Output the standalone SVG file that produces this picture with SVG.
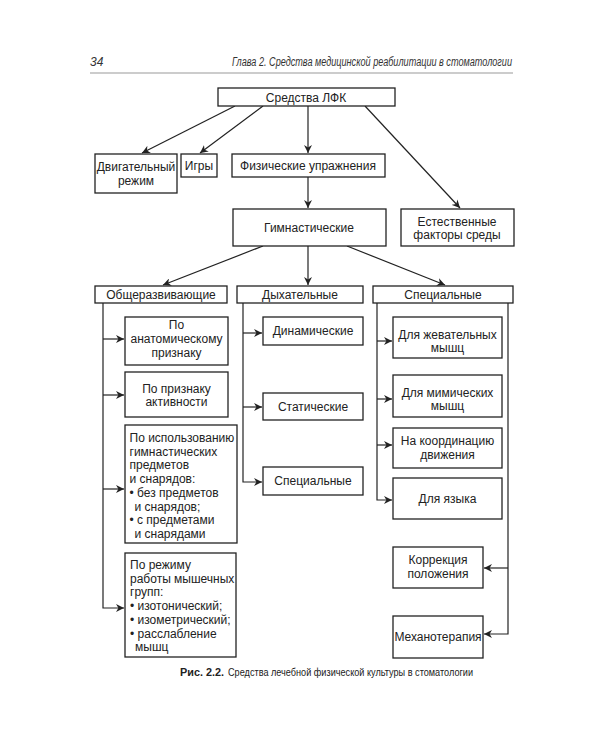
<svg xmlns="http://www.w3.org/2000/svg" width="600" height="750" viewBox="0 0 600 750">
<style>
.b{fill:#fff;stroke:#222;stroke-width:1.3}
.t{font-family:"Liberation Sans",Arial,sans-serif;font-size:12px;fill:#222}
.c{text-anchor:middle}
.l{fill:none;stroke:#222;stroke-width:1.2}
.h{font-family:"Liberation Sans",Arial,sans-serif;font-size:12px;font-style:italic;fill:#333}
.cap{font-family:"Liberation Sans",Arial,sans-serif;font-size:11px;fill:#222}
</style>
<defs>
<marker id="a" viewBox="0 0 10 10" refX="10" refY="5" markerWidth="8" markerHeight="8" markerUnits="userSpaceOnUse" orient="auto">
<path d="M0,0 L10,5 L0,10 L3,5 z" fill="#222"/>
</marker>
</defs>
<rect width="600" height="750" fill="#fff"/>
<g id="header">
<text class="h" x="90" y="66">34</text>
<text class="h" x="512" y="66" text-anchor="end" textLength="280" lengthAdjust="spacingAndGlyphs">Глава 2. Средства медицинской реабилитации в стоматологии</text>
<line x1="90" y1="73" x2="513" y2="73" stroke="#999" stroke-width="1.2"/>
</g>
<g id="connectors">
<line class="l" x1="235" y1="106" x2="142" y2="153" marker-end="url(#a)"/>
<line class="l" x1="263" y1="106" x2="200" y2="153" marker-end="url(#a)"/>
<line class="l" x1="308" y1="106" x2="308" y2="153" marker-end="url(#a)"/>
<line class="l" x1="365" y1="106" x2="460" y2="208" marker-end="url(#a)"/>
<line class="l" x1="308" y1="177" x2="308" y2="208" marker-end="url(#a)"/>
<line class="l" x1="263" y1="246" x2="163" y2="285" marker-end="url(#a)"/>
<line class="l" x1="308" y1="246" x2="308" y2="285" marker-end="url(#a)"/>
<line class="l" x1="347" y1="246" x2="445" y2="285" marker-end="url(#a)"/>
<path class="l" d="M103,303 V608 H124" marker-end="url(#a)"/>
<line class="l" x1="103" y1="339" x2="124" y2="339" marker-end="url(#a)"/>
<line class="l" x1="103" y1="395" x2="124" y2="395" marker-end="url(#a)"/>
<line class="l" x1="103" y1="489" x2="124" y2="489" marker-end="url(#a)"/>
<path class="l" d="M243,303 V482 H262" marker-end="url(#a)"/>
<line class="l" x1="243" y1="333" x2="262" y2="333" marker-end="url(#a)"/>
<line class="l" x1="243" y1="407" x2="262" y2="407" marker-end="url(#a)"/>
<path class="l" d="M377,303 V500 H392" marker-end="url(#a)"/>
<line class="l" x1="377" y1="341" x2="392" y2="341" marker-end="url(#a)"/>
<line class="l" x1="377" y1="399" x2="392" y2="399" marker-end="url(#a)"/>
<line class="l" x1="377" y1="445" x2="392" y2="445" marker-end="url(#a)"/>
<path class="l" d="M508,303 V634 H484" marker-end="url(#a)"/>
<line class="l" x1="508" y1="568" x2="484" y2="568" marker-end="url(#a)"/>
</g>
<g id="n-lfk"><rect class="b" x="218" y="88" width="177" height="18"/><text class="t c" x="306" y="101.5">Средства ЛФК</text></g>
<g id="n-dvig"><rect class="b" x="95" y="154" width="82" height="39"/><text class="t c" x="136" y="171">Двигательный</text><text class="t c" x="136" y="185">режим</text></g>
<g id="n-igry"><rect class="b" x="181" y="154" width="36" height="23"/><text class="t c" x="199" y="170">Игры</text></g>
<g id="n-fiz"><rect class="b" x="232" y="154" width="153" height="23"/><text class="t c" x="308" y="170">Физические упражнения</text></g>
<g id="n-gimn"><rect class="b" x="233" y="209" width="153" height="37"/><text class="t c" x="309" y="232">Гимнастические</text></g>
<g id="n-est"><rect class="b" x="401" y="209" width="113" height="37"/><text class="t c" x="457" y="226">Естественные</text><text class="t c" x="457" y="239">факторы среды</text></g>
<g id="n-obsch"><rect class="b" x="95" y="286" width="132" height="17"/><text class="t c" x="161" y="299">Общеразвивающие</text></g>
<g id="n-dyh"><rect class="b" x="237" y="286" width="126" height="17"/><text class="t c" x="300" y="299">Дыхательные</text></g>
<g id="n-spec"><rect class="b" x="373" y="286" width="140" height="17"/><text class="t c" x="443" y="299">Специальные</text></g>
<g id="n-anat"><rect class="b" x="125" y="317" width="103" height="48"/><text class="t c" x="176.5" y="329">По</text><text class="t c" x="176.5" y="343">анатомическому</text><text class="t c" x="176.5" y="357">признаку</text></g>
<g id="n-akt"><rect class="b" x="125" y="372" width="103" height="45"/><text class="t c" x="176.5" y="393">По признаку</text><text class="t c" x="176.5" y="406">активности</text></g>
<g id="n-isp"><rect class="b" x="125" y="425" width="112" height="118"/>
<text class="t" x="129.5" y="442">По использованию</text>
<text class="t" x="129.5" y="455.7">гимнастических</text>
<text class="t" x="129.5" y="469.4">предметов</text>
<text class="t" x="129.5" y="483.1">и снарядов:</text>
<text class="t" x="129.5" y="496.8">• без предметов</text>
<text class="t" x="134.5" y="510.5">и снарядов;</text>
<text class="t" x="129.5" y="524.2">• с предметами</text>
<text class="t" x="134.5" y="537.9">и снарядами</text>
</g>
<g id="n-rezh"><rect class="b" x="125" y="553" width="111" height="104"/>
<text class="t" x="130" y="569">По режиму</text>
<text class="t" x="130" y="582.7">работы мышечных</text>
<text class="t" x="130" y="596.4">групп:</text>
<text class="t" x="130" y="610.1">• изотонический;</text>
<text class="t" x="130" y="623.8">• изометрический;</text>
<text class="t" x="130" y="637.5">• расслабление</text>
<text class="t" x="135" y="651.2">мышц</text>
</g>
<g id="n-din"><rect class="b" x="263" y="317" width="100" height="28"/><text class="t c" x="313" y="335">Динамические</text></g>
<g id="n-stat"><rect class="b" x="263" y="393" width="100" height="27"/><text class="t c" x="313" y="411">Статические</text></g>
<g id="n-spec2"><rect class="b" x="263" y="467" width="100" height="28"/><text class="t c" x="313" y="485">Специальные</text></g>
<g id="n-zhev"><rect class="b" x="393" y="317" width="109" height="41"/><text class="t c" x="447.5" y="339">Для жевательных</text><text class="t c" x="447.5" y="352">мышц</text></g>
<g id="n-mim"><rect class="b" x="393" y="375" width="109" height="42"/><text class="t c" x="447.5" y="397">Для мимических</text><text class="t c" x="447.5" y="410">мышц</text></g>
<g id="n-koord"><rect class="b" x="393" y="428" width="109" height="40"/><text class="t c" x="447.5" y="445">На координацию</text><text class="t c" x="447.5" y="459">движения</text></g>
<g id="n-yaz"><rect class="b" x="393" y="478" width="109" height="41"/><text class="t c" x="447.5" y="503">Для языка</text></g>
<g id="n-korr"><rect class="b" x="393" y="547" width="90" height="41"/><text class="t c" x="438" y="564">Коррекция</text><text class="t c" x="438" y="578">положения</text></g>
<g id="n-meh"><rect class="b" x="393" y="616" width="90" height="42"/><text class="t c" x="438" y="641">Механотерапия</text></g>
<g id="caption">
<text class="cap" x="180" y="676" font-weight="bold" textLength="44" lengthAdjust="spacingAndGlyphs">Рис. 2.2.</text>
<text class="cap" x="228" y="676" textLength="245" lengthAdjust="spacingAndGlyphs">Средства лечебной физической культуры в стоматологии</text>
</g>
</svg>
